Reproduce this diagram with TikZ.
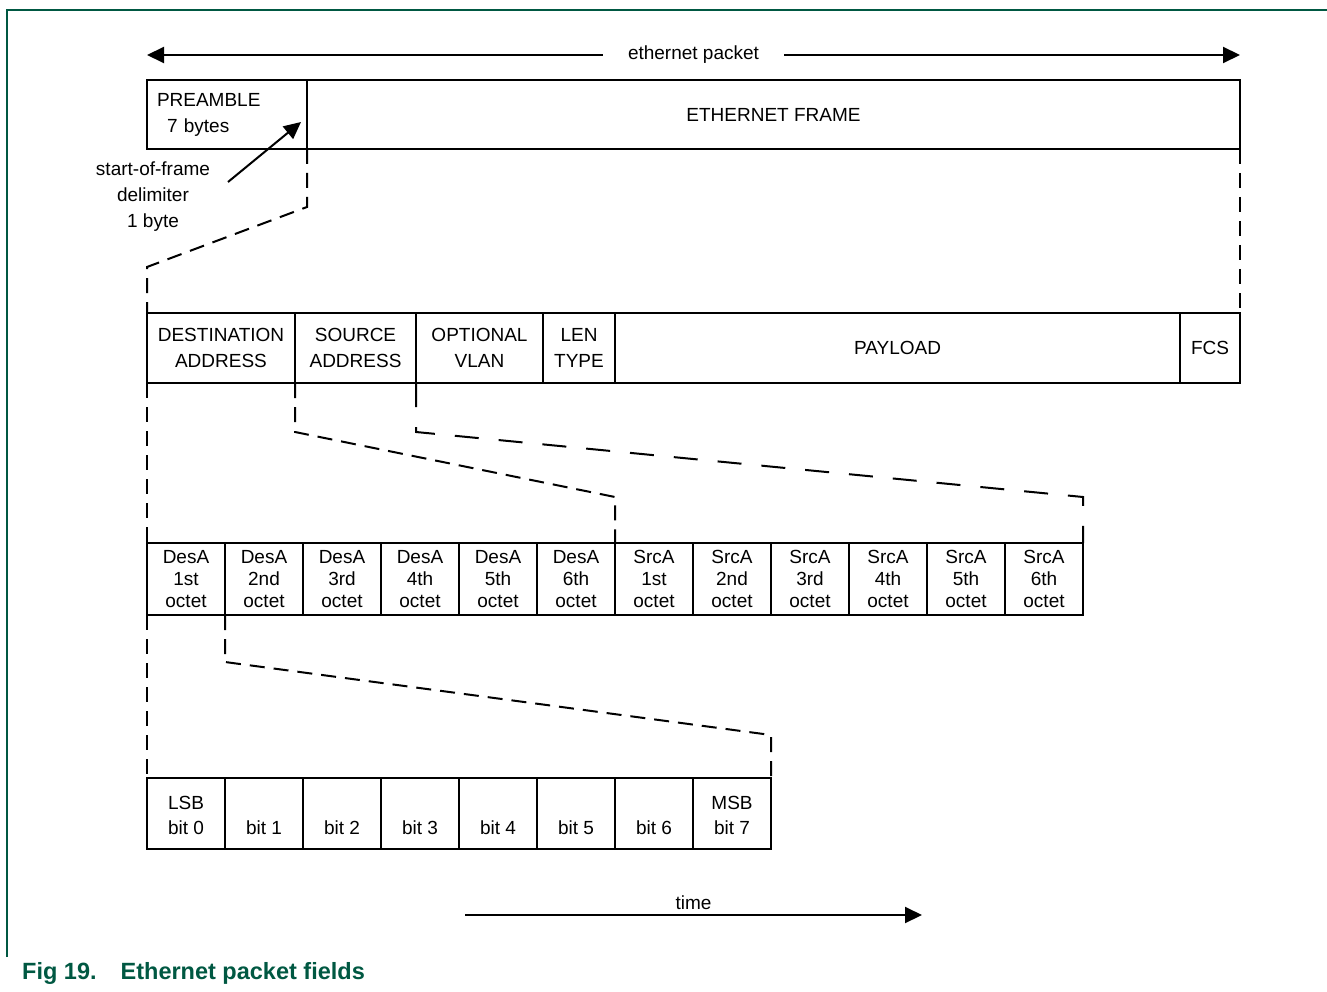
\documentclass[tikz,border=0pt]{standalone}
\usepackage{fontspec}
\setmainfont{Liberation Sans}
\usepackage{tikz}
\usetikzlibrary{arrows.meta}
\usetikzlibrary{positioning}
\definecolor{nxpgreen}{RGB}{0,88,66}
\tikzset{field/.style={draw=black, line width=2pt, minimum height=70, inner sep=0pt, outer sep=0pt, align=center, font=\fontsize{19}{26}\selectfont},
%octet and bit boxes are 78 wide
octet/.style={field, minimum width=78, minimum height=72, font=\fontsize{19}{22}\selectfont},
bitbox/.style={field, minimum width=78, minimum height=71, font=\fontsize{19}{25}\selectfont},
arr/.style={line width=2pt, -{Triangle[length=17pt,width=16pt]}},
dashline/.style={line width=2pt, dash pattern=on 15pt off 9pt},
longdash/.style={line width=2pt, dash pattern=on 24pt off 20pt}}

\begin{document}
\begin{tikzpicture}[x=1pt,y=-1pt]
\useasboundingbox (0,0) rectangle (1327,992);
% page frame
\draw[nxpgreen, line width=1.6pt] (7,957) -- (7,10) -- (1327,10);

% ethernet packet
\coordinate (pl) at (147,55);
\coordinate (pr) at (1240,55);
\draw[arr, {Triangle[length=17pt,width=16pt]}-{Triangle[length=17pt,width=16pt]}] (pl) -- (pr)
   node[midway, fill=white, inner xsep=25pt, font=\fontsize{19}{26}\selectfont] {ethernet packet};

\node[field, minimum width=160, minimum height=69, anchor=north west, text width=140, align=left] (pre) at (147,80) {PREAMBLE\\\hspace*{10pt}7 bytes};
\node[field, minimum width=933, minimum height=69, right=0pt of pre] (frame) {ETHERNET FRAME};

% start-of-frame delimiter
\node[align=center, inner sep=0pt, font=\fontsize{19}{26}\selectfont] (sfd) at (153,197) {start-of-frame\\delimiter\\1 byte};
\coordinate (sfdtail) at (228,182);
\coordinate (sfdtip) at (301,122);
\draw[arr] (sfdtail) -- (sfdtip);

% frame fields
\node[field, minimum width=148, anchor=north west] (dst) at (147,313) {DESTINATION\\ADDRESS};
\node[field, minimum width=121, right=0pt of dst] (src) {SOURCE\\ADDRESS};
\node[field, minimum width=127, right=0pt of src] (vlan) {OPTIONAL\\VLAN};
\node[field, minimum width=72, right=0pt of vlan] (len) {LEN\\TYPE};
\node[field, minimum width=565, right=0pt of len] (payload) {PAYLOAD};
\node[field, minimum width=60, right=0pt of payload] (fcs) {FCS};

\draw[dashline] (pre.south east) -- ++(0,58) -- ([yshift=46pt]dst.north west) -- (dst.north west);
\draw[dashline] (frame.south east) -- (fcs.north east);

% address octets
\foreach \o [count=\i] in {1st,2nd,3rd,4th,5th,6th} {
  \node[octet, anchor=north west] (d\i) at ({147+78*(\i-1)},543) {DesA\\\o\\octet};
  \node[octet, anchor=north west] (s\i) at ({615+78*(\i-1)},543) {SrcA\\\o\\octet};
}

\draw[dashline] (dst.south west) -- (d1.north west);
\draw[dashline] (src.south west) -- ++(0,49) -- ([yshift=46pt]d6.north east) -- (d6.north east);
\draw[longdash] (vlan.south west) -- ++(0,49) -- ([yshift=46pt]s6.north east) -- (s6.north east);

% bits of one octet
\foreach \i/\t in {0/LSB,1/,2/,3/,4/,5/,6/,7/MSB}
  \node[bitbox, anchor=north west] (b\i) at ({147+78*\i},778) {\strut\t\\bit \i};

\draw[dashline] (d1.south west) -- (b0.north west);
\draw[dashline] (d1.south east) -- ++(0,47) -- ([yshift=43pt]b7.north east) -- (b7.north east);

% time
\coordinate (tl) at (465,915);
\coordinate (tr) at (922,915);
\draw[arr] (tl) -- (tr) node[midway, above=1pt, font=\fontsize{19}{26}\selectfont] {time};

% caption
\node[anchor=base west, inner sep=0pt, text=nxpgreen, font=\fontsize{23.5}{28}\selectfont\bfseries] (cap) at (22,979) {Fig 19.\hspace{24pt}Ethernet packet fields};
\end{tikzpicture}
\end{document}
